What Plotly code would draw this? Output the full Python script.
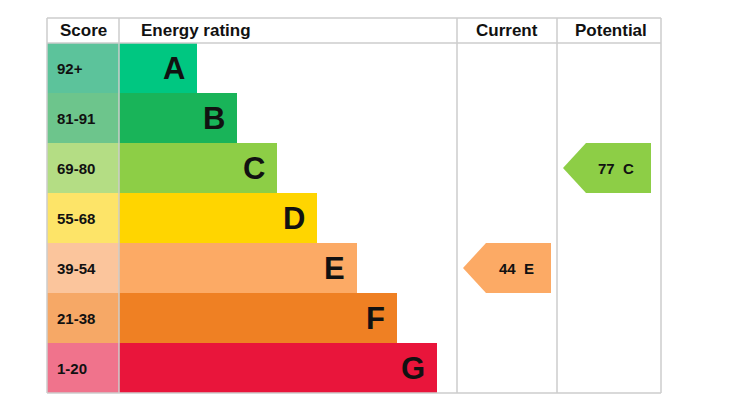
import plotly.graph_objects as go

bands = ['A', 'B', 'C', 'D', 'E', 'F', 'G']
scores = ['92+', '81-91', '69-80', '55-68', '39-54', '21-38', '1-20']
bar_ends = [197, 237, 277, 317, 357, 397, 437]
band_colors = ['#00c781', '#19b459', '#8dce46', '#ffd500', '#fcaa65', '#ef8023', '#e9153b']
score_colors = ['#5cc39b', '#6dc58c', '#b4dd84', '#fde468', '#fbc59c', '#f6a866', '#f0738c']
current = (44, 'E')
potential = (77, 'C')

fig = go.Figure()
rows = list(range(len(bands)))
X0, X1 = 47, 119

fig.add_trace(go.Bar(y=rows, x=[X1 - X0] * 7, base=X0, orientation='h', width=1,
                     marker=dict(color=score_colors, line_width=0)))
fig.add_trace(go.Bar(y=rows, x=[e - X1 for e in bar_ends], base=X1, orientation='h', width=1,
                     marker=dict(color=band_colors, line_width=0)))

for i in rows:
    fig.add_annotation(x=55, y=i, text=f'<b>{scores[i]}</b>', showarrow=False, xanchor='left',
                       font=dict(size=15, color='#111'))
    fig.add_annotation(x=bar_ends[i] - 10, y=i, text=f'<b>{bands[i]}</b>', showarrow=False,
                       xanchor='right', font=dict(size=31, color='#111'))


def arrow(val, band, left):
    i = bands.index(band)
    xs = [left, left + 23, left + 88, left + 88, left + 23, left]
    ys = [i, i - 0.5, i - 0.5, i + 0.5, i + 0.5, i]
    fig.add_trace(go.Scatter(x=xs, y=ys, fill='toself', fillcolor=band_colors[i], mode='lines',
                             line=dict(width=0), hoverinfo='skip'))
    fig.add_annotation(x=left + 53, y=i, text=f'<b>{val}  {band}</b>', showarrow=False,
                       font=dict(size=15, color='#111'))


arrow(current[0], current[1], 463)
arrow(potential[0], potential[1], 563)

for xv in [47, 119, 457, 557, 661]:
    fig.add_shape(type='line', x0=xv, x1=xv, y0=-1, y1=6.5, line=dict(color='#cccccc', width=1.5))
for yv in [-1, -0.5, 6.5]:
    fig.add_shape(type='line', x0=47, x1=661, y0=yv, y1=yv, line=dict(color='#cccccc', width=1.5))

for xc, t in [(83, 'Score'), (196, 'Energy rating'), (507, 'Current'), (611, 'Potential')]:
    fig.add_annotation(x=xc, y=-0.75, text=f'<b>{t}</b>', showarrow=False,
                       font=dict(size=17, color='#111'))

fig.update_layout(width=738, height=419, margin=dict(l=0, r=0, t=0, b=0),
                  plot_bgcolor='white', paper_bgcolor='white', showlegend=False,
                  barmode='overlay', bargap=0,
                  font=dict(family='Arial, Liberation Sans'))
fig.update_xaxes(range=[8, 746], visible=False)
fig.update_yaxes(range=[7.18, -1.2], visible=False)
fig.write_html('out.html')
